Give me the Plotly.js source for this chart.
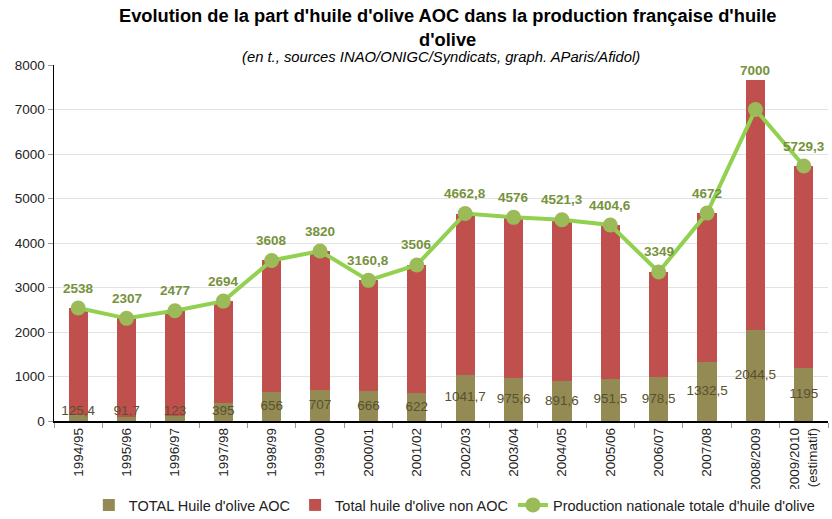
<!DOCTYPE html>
<html><head><meta charset="utf-8">
<script src="https://cdn.plot.ly/plotly-3.0.1.min.js"></script>
<style>html,body{margin:0;padding:0;background:#fff}#chart{width:832px;height:519px}</style>
</head><body><div id="chart"></div>
<script>
const categories = ["1994/95","1995/96","1996/97","1997/98","1998/99","1999/00","2000/01","2001/02","2002/03","2003/04","2004/05","2005/06","2006/07","2007/08","2008/2009","2009/2010<br>(estimatif)"];
const aoc = [125.4,91.7,123,395,656,707,666,622,1041.7,975.6,891.6,951.5,978.5,1332.5,2044.5,1195];
const aocLabels = ["125,4","91,7","123","395","656","707","666","622","1041,7","975,6","891,6","951,5","978,5","1332,5","2044,5","1195"];
const nonAoc = [2412.6,2215.3,2354,2299,2952,3113,2494.8,2884,3621.1,3600.4,3629.7,3453.1,2370.5,3339.5,5620,4534.3];
const production = [2538,2307,2477,2694,3608,3820,3160.8,3506,4662.8,4576,4521.3,4404.6,3349,4672,7000,5729.3];
const prodLabels = ["2538","2307","2477","2694","3608","3820","3160,8","3506","4662,8","4576","4521,3","4404,6","3349","4672","7000","5729,3"];

const font = "Arial, 'Liberation Sans', sans-serif";
const traces = [
  {type:'bar', name:"TOTAL Huile d'olive AOC", x:categories, y:aoc, marker:{color:'#948a54'}, hoverinfo:'skip'},
  {type:'bar', name:"Total huile d'olive non AOC", x:categories, y:nonAoc, marker:{color:'#c0504d'}, hoverinfo:'skip'},
  {type:'scatter', mode:'text', x:categories, y:aoc.map(v=>Math.max(v/2,200)), text:aocLabels, textposition:'middle center',
   textfont:{family:font, size:13.5, color:'#57522f'}, showlegend:false, hoverinfo:'skip', cliponaxis:false},
  {type:'scatter', mode:'lines+markers', name:"Production nationale totale d'huile d'olive", x:categories, y:production,
   line:{color:'#92d050', width:4}, marker:{color:'#9bbb59', size:15}, hoverinfo:'skip', cliponaxis:false}
];
const annotations = [
  {text:"<b>Evolution de la part d'huile d'olive AOC dans la production française d'huile<br>d'olive</b>", xref:'paper', yref:'paper', x:0.508, y:1.104, yanchor:'middle', showarrow:false, font:{size:18.3, color:'#000'}},
  {text:"<i>(en t., sources INAO/ONIGC/Syndicats, graph. AParis/Afidol)</i>", xref:'paper', yref:'paper', x:0.5, y:1.022, yanchor:'middle', showarrow:false, font:{size:14.8, color:'#000'}}
];
production.forEach((v,i)=>{
  const barTop = aoc[i] + nonAoc[i];
  const aboveBar = barTop - v > 300;
  annotations.push({text:'<b>'+prodLabels[i]+'</b>', x:categories[i], y: aboveBar ? barTop : v, yshift: aboveBar ? 9 : 20,
    showarrow:false, font:{size:13.5, color:'#76923c'}, xref:'x', yref:'y'});
});
const layout = {
  width:832, height:519,
  margin:{l:54, r:4, t:65, b:98},
  paper_bgcolor:'#fff', plot_bgcolor:'#fff',
  font:{family:font, size:13, color:'#222'},
  barmode:'stack', bargap:0.6,
  showlegend:true,
  legend:{orientation:'h', yref:'container', x:0.045, xanchor:'left', y:0.027, yanchor:'middle', traceorder:'normal', font:{size:14.5, color:'#222'}, itemwidth:30},
  annotations: annotations,
  xaxis:{type:'category', range:[-0.5,15.5], tickangle:-90, showline:true, linecolor:'#000', linewidth:1.5, ticks:'outside', tickson:'boundaries', ticklen:5, tickcolor:'#999', tickfont:{size:13.5, color:'#222'}, showgrid:false, automargin:false},
  yaxis:{range:[0,8000], dtick:1000, showline:true, linecolor:'#000', linewidth:1.5, ticks:'outside', ticklen:5, tickcolor:'#999', gridcolor:'#e2e2e2', tickfont:{size:13.5, color:'#222'}, zeroline:false, automargin:false}
};
Plotly.newPlot('chart', traces, layout, {displayModeBar:false, staticPlot:true});
</script></body></html>
